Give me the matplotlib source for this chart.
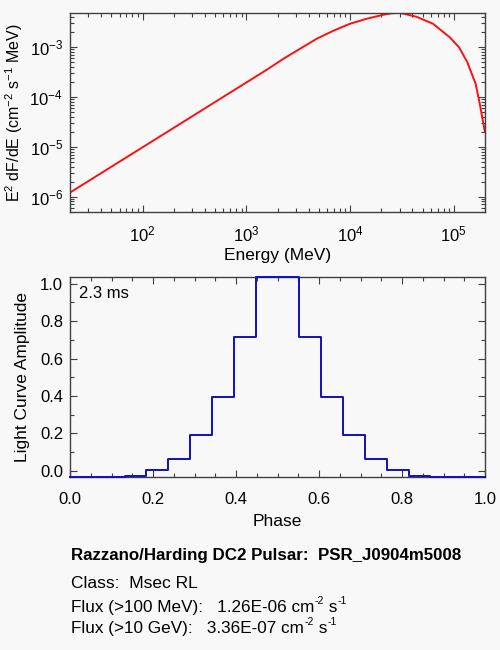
import numpy as np
import matplotlib.pyplot as plt
from matplotlib.ticker import MultipleLocator, LogLocator, NullFormatter

plt.rcParams['font.family'] = ['Liberation Sans', 'DejaVu Sans']
plt.rcParams['mathtext.fontset'] = 'custom'
plt.rcParams['mathtext.rm'] = 'Liberation Sans'
plt.rcParams['mathtext.it'] = 'Liberation Sans'

# Espectro: log10(E/MeV) y log10(E^2 dF/dE)
log_energia = [1.30, 1.60, 2.00, 2.50, 3.00, 3.20, 3.36, 3.52, 3.68, 3.84,
               4.00, 4.16, 4.32, 4.40, 4.46, 4.50, 4.64, 4.80, 4.96, 5.05,
               5.13, 5.21, 5.25, 5.30]
log_flujo = [-5.92, -5.53, -5.01, -4.36, -3.71, -3.45, -3.23, -3.03, -2.83, -2.67,
             -2.53, -2.43, -2.35, -2.32, -2.31, -2.32, -2.39, -2.53, -2.80, -3.00,
             -3.30, -3.73, -4.13, -4.70]

# Curva de luz (histograma por fase)
fase = [k / 19 for k in range(20)]
amplitud = [-0.035, -0.035, -0.035, -0.029, 0.002, 0.063, 0.189, 0.395, 0.713, 1.036,
            1.036, 0.713, 0.395, 0.189, 0.063, 0.002, -0.029, -0.035, -0.035, -0.035]

periodo = '2.3 ms'
titulo = 'Razzano/Harding DC2 Pulsar:  PSR_J0904m5008'
clase = 'Class:  Msec RL'
# cada linea de flujo: (texto, es_exponente)
flujo_100 = [('Flux (>100 MeV):   1.26E-06 cm', False), ('-2', True), (' s', False), ('-1', True)]
flujo_10g = [('Flux (>10 GeV):   3.36E-07 cm', False), ('-2', True), (' s', False), ('-1', True)]

fondo = '#f8f8f8'
gris = '#404040'

fig = plt.figure(figsize=(5, 6.5), dpi=100, facecolor=fondo)


def estilo(ax, pad_x):
    ax.set_facecolor(fondo)
    for s in ax.spines.values():
        s.set_color(gris)
        s.set_linewidth(1.0)
    ax.tick_params(which='both', direction='in', top=True, right=True,
                   color=gris, labelsize=12, labelcolor='black')
    ax.tick_params(which='major', length=5, width=0.8)
    ax.tick_params(which='minor', length=3, width=0.8)
    ax.tick_params(axis='x', which='major', pad=pad_x)
    ax.tick_params(axis='y', which='major', pad=5)


# Grafica superior: espectro
ax1 = fig.add_axes([0.14, 0.674, 0.83, 0.306])
estilo(ax1, 9)
energia = 10 ** np.array(log_energia)
flujo = 10 ** np.array(log_flujo)
ax1.loglog(energia, flujo, color='#ff1010', lw=1.4)
ax1.set_xlim(20, 2.0e5)
ax1.set_ylim(4.94e-7, 4.85e-3)
ax1.xaxis.set_major_locator(LogLocator(base=10, numticks=10))
ax1.xaxis.set_minor_locator(LogLocator(base=10, subs=np.arange(2, 10), numticks=20))
ax1.yaxis.set_minor_locator(LogLocator(base=10, subs=np.arange(2, 10), numticks=20))
ax1.xaxis.set_minor_formatter(NullFormatter())
ax1.yaxis.set_minor_formatter(NullFormatter())
ax1.set_xlabel('Energy (MeV)', fontsize=12.5, labelpad=3)
ax1.set_ylabel('E$^2$ dF/dE (cm$^{-2}$ s$^{-1}$ MeV)', fontsize=11.5, labelpad=3)

# Grafica inferior: curva de luz
ax2 = fig.add_axes([0.14, 0.266, 0.83, 0.3077])
estilo(ax2, 11)
ax2.plot(fase, amplitud, drawstyle='steps-mid', color='#1010c0', lw=1.4,
         clip_on=False, zorder=3)
ax2.set_xlim(0, 1)
ax2.set_ylim(-0.035, 1.036)
ax2.xaxis.set_major_locator(MultipleLocator(0.2))
ax2.xaxis.set_minor_locator(MultipleLocator(0.05))
ax2.yaxis.set_major_locator(MultipleLocator(0.2))
ax2.yaxis.set_minor_locator(MultipleLocator(0.1))
ax2.xaxis.set_major_formatter(plt.FormatStrFormatter('%.1f'))
ax2.yaxis.set_major_formatter(plt.FormatStrFormatter('%.1f'))
ax2.set_xlabel('Phase', fontsize=12.5, labelpad=5)
ax2.set_ylabel('Light Curve Amplitude', fontsize=12.5, labelpad=7)
ax2.text(0.022, 0.955, periodo, transform=ax2.transAxes, fontsize=12, va='top', ha='left')


# Linea de texto con exponentes pequenos (estilo IDL)
def linea_exponentes(x, y, partes, size, size_exp=7.5, subida=6.3):
    base = fig.text(x, y, partes[0][0], fontsize=size, va='baseline')
    prev = base
    for texto, es_exp in partes[1:]:
        if es_exp:
            prev = ax2.annotate(texto, xy=(1, 0), xycoords=(prev, base),
                                xytext=(0.3, subida), textcoords='offset points',
                                fontsize=size_exp, va='bottom', ha='left',
                                annotation_clip=False)
        else:
            prev = ax2.annotate(texto, xy=(1, 0), xycoords=(prev, base),
                                fontsize=size, va='bottom', ha='left',
                                annotation_clip=False)


# Textos informativos
fig.text(0.142, 1 - 560 / 650, titulo, fontsize=12.2, fontweight='bold', va='baseline')
fig.text(0.142, 1 - 588 / 650, clase, fontsize=12.5, va='baseline')
linea_exponentes(0.142, 1 - 612 / 650, flujo_100, 12.3)
linea_exponentes(0.142, 1 - 633 / 650, flujo_10g, 12.3)

plt.savefig('out.png', dpi=100, facecolor=fondo)
